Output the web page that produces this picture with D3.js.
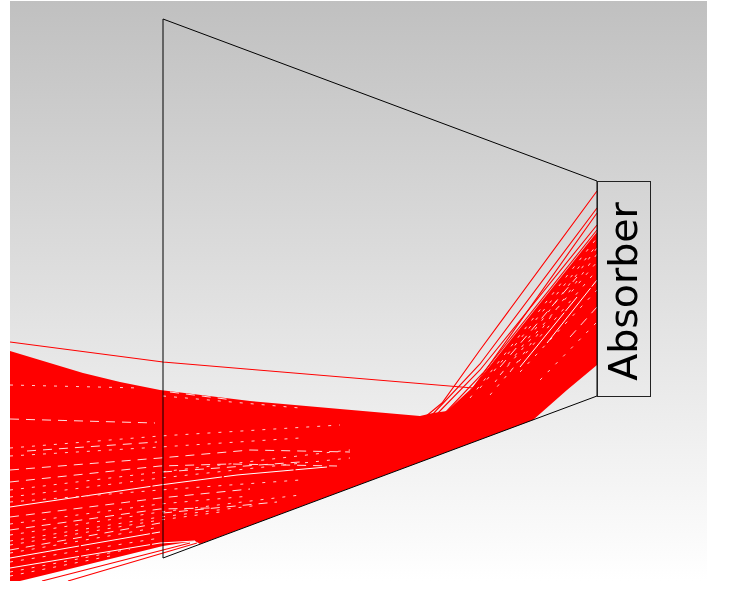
<!DOCTYPE html>
<html>
<head>
<meta charset="utf-8">
<title>Absorber</title>
<style>
  body { margin: 0; background: #fff; }
  svg { display: block; }
</style>
<script src="https://cdn.jsdelivr.net/npm/d3@7/dist/d3.min.js"></script>
</head>
<body>
<div id="chart"></div>
<script>
const labelText = "Absorber";
const viewExtent = [[10, 1], [707, 581]];
const detector = [[163, 19], [597, 181], [597, 396], [163, 558], [163, 19]];
const absorberBox = [[597, 181], [650, 396]];

// solid red bundle outline
const bundleOutline = [[10, 351], [83, 373], [120, 382], [160, 390], [250, 401], [340, 409], [420, 416], [433, 413], [447, 411],
  [473, 387], [597, 232], [597, 365], [567, 390], [533, 420], [200, 544], [195, 541], [163, 546], [53, 573], [20, 581], [10, 581]];

// rays outside the bundle
const loneRay = [[10, 342], [163, 362], [473, 388], [597, 213]];
const upperRays = [
  [[425, 417], [442, 403], [480, 350], [597, 191]],
  [[432, 415], [480, 364], [597, 208]],
  [[437, 414], [480, 370], [597, 225]],
  [[444, 414], [483, 373], [597, 230]]
];
const lowerRays = [
  [[68, 581], [163, 553], [197, 543]],
  [[42, 581], [163, 550], [190, 543]]
];

// holes in the bundle: unbroken stripes, dashes and dots
const stripeGaps = [
  [[10, 507], [160, 485], [183, 482], [237, 475], [293, 470], [327, 467]],
  [[10, 568], [160, 543], [195, 541]],
  [[10, 558], [160, 532]],
  [[547, 343], [597, 280]],
  [[520, 367], [577, 297]]
];
const dashGaps = [
  [[10, 419], [155, 423]],
  [[27, 451], [157, 442]],
  [[10, 470], [160, 458], [250, 450], [350, 452]],
  [[10, 482], [160, 466], [230, 464], [337, 466]],
  [[10, 517], [160, 498], [250, 489]],
  [[10, 550], [160, 523]],
  [[163, 513], [277, 502]],
  [[163, 472], [300, 462]],
  [[10, 530], [160, 509], [210, 508]],
  [[170, 392], [233, 400]],
  [[500, 367], [577, 277]],
  [[570, 337], [597, 307]]
];
const dottedGaps = [
  [[10, 448], [160, 436], [340, 425]],
  [[10, 456], [160, 447], [300, 438]],
  [[10, 490], [160, 472], [350, 450]],
  [[10, 497], [160, 478], [350, 458]],
  [[10, 502], [160, 490], [300, 480]],
  [[10, 524], [160, 504], [250, 496]],
  [[10, 535], [160, 512], [300, 495]],
  [[10, 541], [160, 517], [260, 505]],
  [[10, 545], [160, 520], [220, 512]],
  [[10, 553], [160, 527]],
  [[10, 562], [160, 538]],
  [[10, 572], [130, 549]],
  [[10, 576], [110, 556]],
  [[163, 396], [300, 408]],
  [[10, 385], [140, 388]],
  [[500, 375], [597, 262]],
  [[480, 388], [597, 245]],
  [[470, 398], [597, 238]],
  [[490, 395], [597, 270]],
  [[510, 372], [597, 254]],
  [[495, 382], [597, 248]],
  [[520, 372], [597, 290]],
  [[540, 380], [597, 322]]
];

const width = 730, height = 589;
const x = d3.scaleLinear().domain([0, 730]).range([0, width]);
const y = d3.scaleLinear().domain([0, 589]).range([0, height]);
const line = d3.line().x(d => x(d[0])).y(d => y(d[1]));

const svg = d3.select("#chart").append("svg")
  .attr("width", width)
  .attr("height", height);

const defs = svg.append("defs");
const grad = defs.append("linearGradient")
  .attr("id", "bg")
  .attr("x1", 0).attr("y1", 0).attr("x2", 0).attr("y2", 1);
grad.append("stop").attr("offset", "0%").attr("stop-color", "#c0c0c0");
grad.append("stop").attr("offset", "100%").attr("stop-color", "#ffffff");

defs.append("clipPath").attr("id", "view").append("rect")
  .attr("x", x(viewExtent[0][0]))
  .attr("y", y(viewExtent[0][1]))
  .attr("width", x(viewExtent[1][0]) - x(viewExtent[0][0]))
  .attr("height", y(viewExtent[1][1]) - y(viewExtent[0][1]));

// the reference is a slightly soft screenshot
defs.append("filter").attr("id", "soft")
  .append("feGaussianBlur").attr("stdDeviation", 0.35);

svg.append("rect")
  .attr("x", x(viewExtent[0][0]))
  .attr("y", y(viewExtent[0][1]))
  .attr("width", x(viewExtent[1][0]) - x(viewExtent[0][0]))
  .attr("height", y(viewExtent[1][1]) - y(viewExtent[0][1]))
  .attr("fill", "url(#bg)");

const scene = svg.append("g").attr("filter", "url(#soft)");
const rays = scene.append("g").attr("clip-path", "url(#view)");

rays.append("path")
  .attr("d", line(bundleOutline) + "Z")
  .attr("fill", "#ff0000");

function drawGaps(data, name, colour, dash) {
  rays.selectAll("." + name)
    .data(data)
    .enter()
    .append("path")
    .attr("class", name)
    .attr("d", line)
    .attr("fill", "none")
    .attr("stroke", colour)
    .attr("stroke-width", 1)
    .attr("stroke-dasharray", dash);
}
drawGaps(stripeGaps, "gap-stripe", "#ffffff", "70 2");
drawGaps(dashGaps, "gap-dash", "#ffe0e0", "9 7");
drawGaps(dottedGaps, "gap-dot", "#ffd0d0", "3 8");

rays.selectAll(".ray")
  .data([loneRay, ...upperRays, ...lowerRays])
  .enter()
  .append("path")
  .attr("class", "ray")
  .attr("d", line)
  .attr("fill", "none")
  .attr("stroke", "#ff0000")
  .attr("stroke-width", 1.1);

scene.append("path")
  .attr("d", line(detector))
  .attr("fill", "none")
  .attr("stroke", "#000")
  .attr("stroke-width", 1);

scene.append("rect")
  .attr("x", x(absorberBox[0][0]) + 0.5)
  .attr("y", y(absorberBox[0][1]) + 0.5)
  .attr("width", x(absorberBox[1][0]) - x(absorberBox[0][0]))
  .attr("height", y(absorberBox[1][1]) - y(absorberBox[0][1]))
  .attr("fill", "none")
  .attr("stroke", "#222")
  .attr("stroke-width", 1);

scene.append("text")
  .attr("transform", `translate(${x(637)},${y(291.5)}) rotate(-90)`)
  .attr("text-anchor", "middle")
  .attr("font-family", "'DejaVu Sans', sans-serif")
  .attr("font-size", 39.5)
  .attr("fill", "#000")
  .text(labelText);
</script>
</body>
</html>
